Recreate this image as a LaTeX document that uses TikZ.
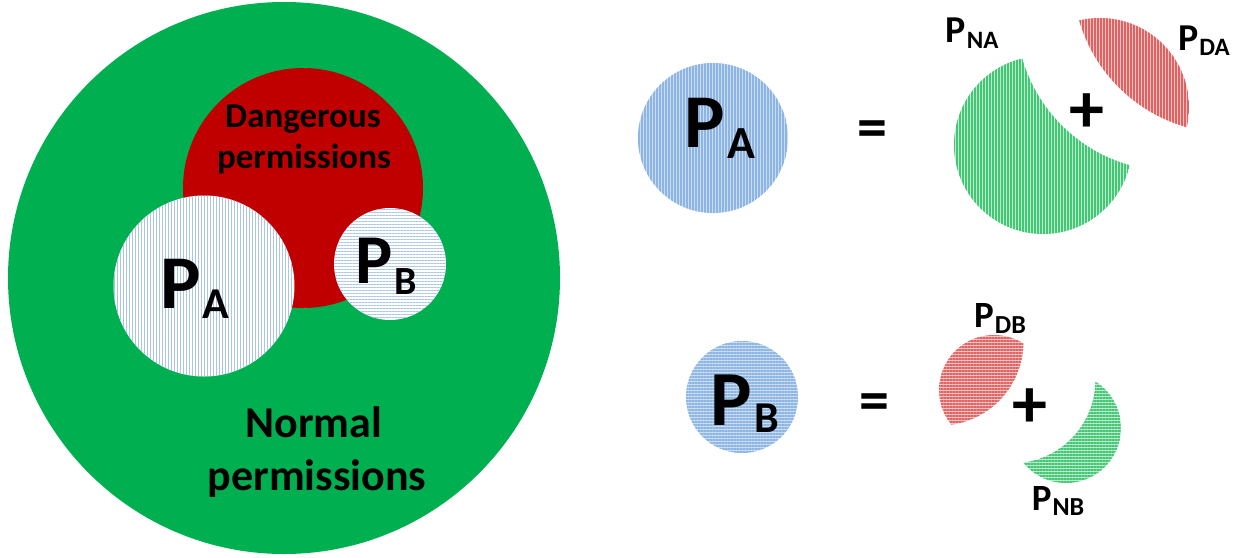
\documentclass[tikz,border=0pt]{standalone}
\usepackage{fontspec}
\setmainfont{Carlito}
\usetikzlibrary{patterns.meta}
\definecolor{bigGreen}{HTML}{00B050}
\definecolor{darkRed}{HTML}{C00000}
\definecolor{paleLine}{HTML}{A9C6EA}
\definecolor{blueBase}{HTML}{C9DDF2}
\definecolor{blueLine}{HTML}{8DB4E2}
\definecolor{greenBase}{HTML}{B8ECCB}
\definecolor{greenLine}{HTML}{45C576}
\definecolor{redBase}{HTML}{F6C4C2}
\definecolor{redLine}{HTML}{E06363}
\newcommand{\permlabel}[5]{{\fontsize{#1}{#1}\selectfont P}\kern#5\raisebox{-#4}{\fontsize{#2}{#2}\selectfont #3}}
\tikzset{
  disc/.style={circle, inner sep=0pt, outer sep=0pt, draw=none},
  vstripes/.style={pattern={Lines[angle=90,distance=3pt,line width=#1]}},
  hstripes/.style={pattern={Lines[angle=0,distance=3pt,line width=#1]}},
  palevert/.style={disc, preaction={fill=white}, vstripes=0.8pt, pattern color=paleLine},
  palehor/.style={disc, preaction={fill=white}, hstripes=0.8pt, pattern color=paleLine},
  bluevert/.style={disc, preaction={fill=blueBase}, vstripes=1.5pt, pattern color=blueLine},
  bluehor/.style={disc, preaction={fill=blueBase}, hstripes=1.5pt, pattern color=blueLine},
  lbl/.style={anchor=base, inner sep=0pt, text=black},
  sign/.style={anchor=center, inner sep=0pt, text=black}
}
\begin{document}
\begin{tikzpicture}[x=1pt,y=-1pt,font=\bfseries]
\useasboundingbox (0,0) rectangle (1244,557);
% left: Venn-like diagram
\node[disc, fill=bigGreen, minimum size=552pt] (normal) at (284,278) {};
\node[disc, fill=darkRed, minimum size=240pt] (danger) at (303,188) {};
\node[palevert, minimum size=181pt] (pa) at (204,286) {};
\node[palehor, minimum size=112pt] (pb) at (390,264) {};
\node[lbl, font=\bfseries\fontsize{35}{35}\selectfont] (dang1) at (303,127) {Dangerous};
\node[lbl, font=\bfseries\fontsize{35}{35}\selectfont] (dang2) at (304,168) {permissions};
\node[lbl, font=\bfseries\fontsize{44}{44}\selectfont] (norm1) at (314,437) {Normal};
\node[lbl, font=\bfseries\fontsize{44}{44}\selectfont] (norm2) at (317,490) {permissions};
\node[lbl] (palbl) at (195,308) {\permlabel{76}{44}{A}{10pt}{2pt}};
\node[lbl] (pblbl) at (386,283) {\permlabel{70}{40}{B}{11pt}{2pt}};
% right top: P_A = P_NA + P_DA
\node[bluevert, minimum size=150pt] (paR) at (713,138) {};
\node[lbl] (paRlbl) at (720,147) {\permlabel{76}{46}{A}{11pt}{2pt}};
\node[sign, font=\bfseries\fontsize{60}{60}\selectfont] (eqA) at (872,134) {=};
\begin{scope}
  \clip (1043,145) circle[radius=89pt];
  \fill[even odd rule, preaction={fill=greenBase, even odd rule}, vstripes=1.5pt, pattern color=greenLine]
    (940,40) rectangle (1150,250) (1172,15) circle[radius=156pt];
\end{scope}
\begin{scope}
  \clip (1100,107) circle[radius=89pt];
  \fill[preaction={fill=redBase}, vstripes=1.5pt, pattern color=redLine]
    (1229,-23) circle[radius=156pt];
\end{scope}
\node[sign, font=\bfseries\fontsize{70}{70}\selectfont] (plusA) at (1087,113) {+};
\node[lbl] (pnalbl) at (972,42) {\permlabel{38}{25}{NA}{6pt}{1pt}};
\node[lbl] (pdalbl) at (1204,50) {\permlabel{38}{25}{DA}{5pt}{1pt}};
% right bottom: P_B = P_DB + P_NB
\node[bluehor, minimum size=112pt] (pbR) at (742,397) {};
\node[lbl] (pbRlbl) at (745,425) {\permlabel{78}{44}{B}{7pt}{2pt}};
\node[sign, font=\bfseries\fontsize{60}{60}\selectfont] (eqB) at (874,407) {=};
\begin{scope}
  \clip (994,390) circle[radius=55pt];
  \fill[preaction={fill=redBase}, hstripes=1.5pt, pattern color=redLine]
    (940,342) circle[radius=83.4pt];
\end{scope}
\begin{scope}
  \clip (1066,428) circle[radius=55pt];
  \fill[even odd rule, preaction={fill=greenBase, even odd rule}, hstripes=1.5pt, pattern color=greenLine]
    (1000,360) rectangle (1130,500) (1012,380) circle[radius=83.4pt];
\end{scope}
\node[sign, font=\bfseries\fontsize{70}{70}\selectfont] (plusB) at (1030,408) {+};
\node[lbl] (pdblbl) at (1000,327) {\permlabel{37}{26}{DB}{6pt}{1pt}};
\node[lbl] (pnblbl) at (1058,510) {\permlabel{37}{26}{NB}{5pt}{1pt}};
\end{tikzpicture}
\end{document}
